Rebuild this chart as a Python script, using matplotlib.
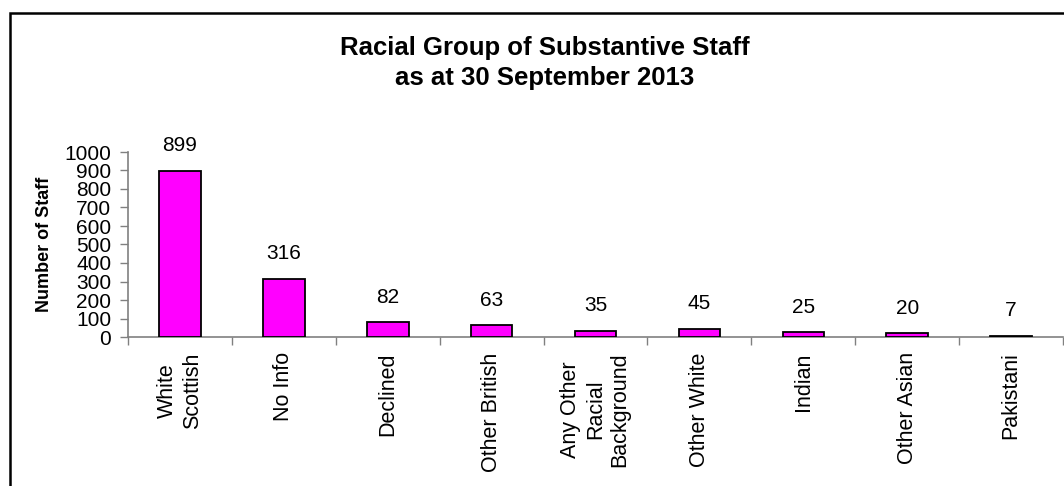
import numpy as np
import matplotlib.pyplot as plt
from matplotlib.patches import Rectangle

# staff counts by racial group
groups = ["White\nScottish", "No Info", "Declined", "Other British",
          "Any Other\nRacial\nBackground", "Other White", "Indian",
          "Other Asian", "Pakistani"]
staff = [899, 316, 82, 63, 35, 45, 25, 20, 7]

plt.rcParams['font.family'] = ['Liberation Sans', 'DejaVu Sans']

W, H = 1064, 486
fig = plt.figure(figsize=(W / 100, H / 100), dpi=100)
fig.patch.set_facecolor("white")

# chart frame (runs off the right and bottom edges)
frame = Rectangle((10 / W, -0.1), 1.2, (H - 13) / H + 0.1, transform=fig.transFigure,
                  fill=False, edgecolor="black", linewidth=1.8, clip_on=False)
fig.patches.append(frame)

ax = fig.add_axes([128 / W, 149 / H, 935 / W, 185 / H])

x = np.arange(len(groups))
ax.bar(x, staff, width=0.4, color="#FF00FF", edgecolor="black", linewidth=1.3, zorder=3)

for xi, v in zip(x, staff):
    ax.annotate(str(v), (xi, v), xytext=(0, 11), textcoords="offset points",
                ha="center", va="bottom", fontsize=15)

ax.set_xlim(-0.5, len(groups) - 0.5)
ax.set_ylim(0, 1000)
ax.set_yticks(np.arange(0, 1001, 100))
ax.tick_params(axis="y", labelsize=15, length=6, width=1, color="#808080", pad=6)

ax.set_xticks(x)
ax.set_xticklabels(groups, rotation=90, fontsize=15.5, ha="center", va="top",
                   multialignment="center", linespacing=1.22)
ax.set_xticks(np.arange(-0.5, len(groups)), minor=True)
ax.tick_params(axis="x", which="major", length=0, pad=11)
ax.tick_params(axis="x", which="minor", length=6, width=1, color="#808080")

for side in ("top", "right"):
    ax.spines[side].set_visible(False)
for side in ("left", "bottom"):
    ax.spines[side].set_color("#808080")
    ax.spines[side].set_linewidth(1.2)

ax.set_ylabel("Number of Staff", fontsize=13, fontweight="bold", labelpad=8)

fig.text(545 / W, 1 - 48 / H, "Racial Group of Substantive Staff",
         ha="center", va="center", fontsize=18.5, fontweight="bold")
fig.text(545 / W, 1 - 78 / H, "as at 30 September 2013",
         ha="center", va="center", fontsize=18.5, fontweight="bold")

fig.savefig("out.png", dpi=100)
